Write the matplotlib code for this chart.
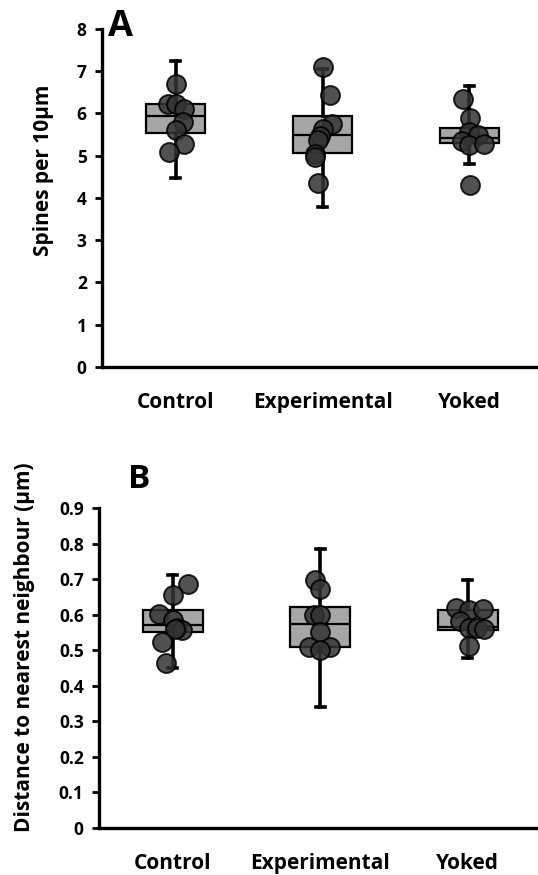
import numpy as np
import matplotlib
matplotlib.use("Agg")
import matplotlib.pyplot as plt

plt.rcParams['font.family'] = ['Open Sans', 'DejaVu Sans']
plt.rcParams['font.weight'] = 'bold'

groups = ['Control', 'Experimental', 'Yoked']

# panel A: spines per 10 um, box stats (whislo, q1, med, q3, whishi)
spines_box = [
    [4.48, 5.53, 5.95, 6.23, 7.23],
    [3.79, 5.06, 5.49, 5.93, 7.05],
    [4.81, 5.31, 5.41, 5.66, 6.66],
]
spines_ctrl = [6.70, 6.23, 6.23, 6.10, 5.79, 5.61, 5.28, 5.08]
spines_ctrl_dx = [0.0, -0.052, 0.0, 0.057, 0.052, 0.0, 0.061, -0.043]
spines_exp = [7.11, 6.44, 5.75, 5.63, 5.47, 5.38, 5.04, 4.98, 4.36]
spines_exp_dx = [0.0, 0.048, 0.063, 0.0, -0.020, -0.034, -0.048, -0.048, -0.034]
spines_yok = [6.34, 5.89, 5.57, 5.49, 5.36, 5.26, 5.28, 4.31]
spines_yok_dx = [-0.045, 0.005, 0.0, 0.057, -0.052, 0.0, 0.102, 0.005]

# panel B: distance to nearest neighbour (um)
dist_box = [
    [0.450, 0.550, 0.572, 0.614, 0.712],
    [0.339, 0.508, 0.575, 0.621, 0.786],
    [0.478, 0.558, 0.565, 0.614, 0.698],
]
dist_ctrl = [0.687, 0.655, 0.602, 0.586, 0.562, 0.558, 0.560, 0.522, 0.464]
dist_ctrl_dx = [0.10, 0.005, -0.093, 0.005, 0.032, 0.061, 0.016, -0.075, -0.045]
dist_exp = [0.697, 0.672, 0.600, 0.600, 0.550, 0.509, 0.509, 0.500]
dist_exp_dx = [-0.034, 0.0, -0.045, 0.0, 0.0, -0.079, 0.068, 0.0]
dist_yok = [0.619, 0.614, 0.616, 0.581, 0.5625, 0.5625, 0.560, 0.511]
dist_yok_dx = [-0.079, 0.011, 0.106, -0.052, 0.005, 0.061, 0.111, 0.005]


def panel(ax, box, pts, dxs, ymax, ystep, fmt, xmax):
    pos = [0.5, 1.5, 2.5]
    stats = [dict(whislo=b[0], q1=b[1], med=b[2], q3=b[3], whishi=b[4]) for b in box]
    ax.bxp(stats, positions=pos, widths=0.405, patch_artist=True,
           showfliers=False, capwidths=0.06,
           boxprops=dict(facecolor='#a6a6a6', edgecolor='black', linewidth=1.6),
           medianprops=dict(color='black', linewidth=1.6),
           whiskerprops=dict(color='black', linewidth=2.6),
           capprops=dict(color='black', linewidth=2.6))
    for p, y, dx in zip(pos, pts, dxs):
        ax.scatter(np.array(dx) + p, y, s=185, color='#333333', alpha=0.85,
                   edgecolor='black', linewidth=1.4, zorder=3)
    ax.set_xlim(0, xmax)
    ax.set_ylim(0, ymax)
    ticks = np.arange(0, ymax + ystep / 2, ystep)
    ax.set_yticks(ticks)
    ax.set_yticklabels([fmt(t) for t in ticks], fontsize=12.5, fontweight='bold')
    ax.set_xticks(pos)
    ax.set_xticklabels(groups, fontsize=15, fontweight='bold')
    ax.tick_params(axis='x', length=0, pad=18)
    ax.tick_params(axis='y', direction='out', length=5, width=2, pad=6)
    for s in ['top', 'right']:
        ax.spines[s].set_visible(False)
    for s in ['left', 'bottom']:
        ax.spines[s].set_linewidth(2.4)


fig = plt.figure(figsize=(5.38, 8.75), dpi=100)
axA = fig.add_axes([0.1896, 0.5806, 0.8104, 0.3863])
panel(axA, spines_box, [spines_ctrl, spines_exp, spines_yok],
      [spines_ctrl_dx, spines_exp_dx, spines_yok_dx], 8, 1,
      lambda t: '%d' % t, 2.966)
axB = fig.add_axes([0.184, 0.0537, 0.816, 0.3657])
panel(axB, dist_box, [dist_ctrl, dist_exp, dist_yok],
      [dist_ctrl_dx, dist_exp_dx, dist_yok_dx], 0.9, 0.1,
      lambda t: '0' if t == 0 else ('%.1f' % t), 2.976)

fig.text(44 / 538, 1 - 170 / 875, 'Spines per 10µm', rotation=90,
         ha='center', va='center', fontsize=15, fontweight='bold')
fig.text(25 / 538, 1 - 647 / 875, 'Distance to nearest neighbour (µm)', rotation=90,
         ha='center', va='center', fontsize=15, fontweight='bold')
fig.text(108 / 538, 1 - 9 / 875, 'A', ha='left', va='top', fontsize=26, fontweight='bold')
fig.text(128 / 538, 1 - 463 / 875, 'B', ha='left', va='top', fontsize=24, fontweight='bold')

fig.savefig('out.png', dpi=100)
